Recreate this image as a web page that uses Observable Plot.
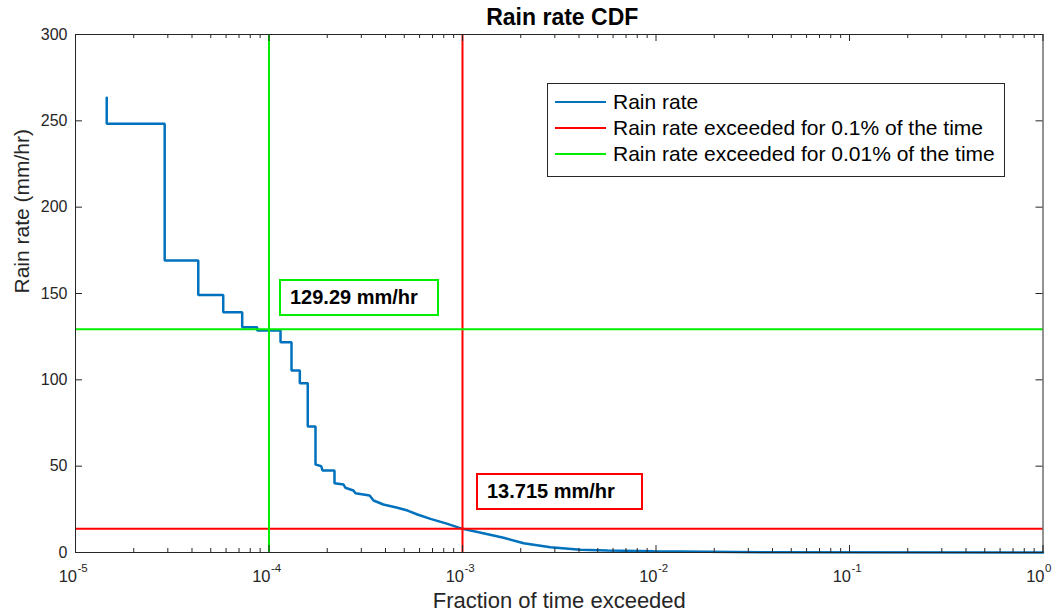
<!DOCTYPE html>
<html>
<head>
<meta charset="utf-8">
<script src="https://cdn.jsdelivr.net/npm/d3@7"></script>
<script src="https://cdn.jsdelivr.net/npm/@observablehq/plot@0.6"></script>
<style>
  body { margin: 0; background: #fff; }
  #wrap { position: relative; width: 1058px; height: 615px; font-family: "Liberation Sans", Arial, Helvetica, sans-serif; }
  #wrap svg { display: block; }
  .legend { position: absolute; left: 547px; top: 83px; width: 458px; height: 94px; border: 1px solid #262626; background: #fff; box-sizing: border-box; }
  .legend .row { position: absolute; left: 7px; height: 24px; display: flex; align-items: center; }
  .legend .sw { width: 51px; height: 0; border-top: 2px solid; margin-right: 7px; }
  .legend .lab { font-size: 21px; color: #000; white-space: nowrap; }
  .note { position: absolute; border: 2px solid; box-sizing: border-box; background: #fff; font-weight: bold; font-size: 20px; color: #000; display: flex; align-items: center; padding-left: 9px; white-space: nowrap; }
</style>
</head>
<body>
<div id="wrap"></div>
<script>
// ---- data ----
const frac = [1.45e-5, 1.45e-5, 2.89e-5, 2.89e-5, 4.31e-5, 4.31e-5, 5.80e-5, 5.80e-5, 7.27e-5, 7.27e-5, 8.69e-5, 8.69e-5,
  1.147e-4, 1.147e-4, 1.307e-4, 1.307e-4, 1.443e-4, 1.443e-4, 1.586e-4, 1.586e-4, 1.739e-4, 1.739e-4, 1.861e-4, 1.89e-4,
  2.18e-4, 2.18e-4, 2.43e-4, 2.48e-4, 2.73e-4, 2.80e-4, 3.31e-4, 3.47e-4, 3.90e-4, 4.61e-4, 5.20e-4, 5.85e-4, 6.83e-4,
  8.37e-4, 1.0e-3, 1.28e-3, 1.63e-3, 2.07e-3, 2.85e-3, 4.07e-3, 5.61e-3, 9.7e-3, 0.0347, 1];
const rate = [263.3, 248.3, 248.3, 169.1, 169.1, 149.2, 149.2, 139.2, 139.2, 130.5, 130.5, 128.6,
  128.6, 121.8, 121.8, 105.4, 105.4, 98.0, 98.0, 73.0, 73.0, 51.0, 50.0, 47.5,
  47.5, 40.1, 39.4, 37.5, 35.9, 34.3, 33.0, 30.1, 27.8, 25.9, 24.3, 22.0, 19.5,
  16.6, 13.715, 11.2, 8.5, 5.4, 3.1, 1.6, 1.2, 0.75, 0.2, 0.05];

const thrLabel = ["Rain rate exceeded for 0.1% of the time", "Rain rate exceeded for 0.01% of the time"];
const thrFrac = [1e-3, 1e-4];
const thrRate = [13.715, 129.29];
const thrColor = ["#ff0000", "#00ee00"];
const seriesLabel = "Rain rate";
const seriesColor = "#0072bd";

const xMajor = [1e-5, 1e-4, 1e-3, 1e-2, 1e-1, 1];
const xExp = ["-5", "-4", "-3", "-2", "-1", "0"];
const yTicks = [0, 50, 100, 150, 200, 250, 300];
const titleText = "Rain rate CDF";
const xLabel = "Fraction of time exceeded";
const yLabel = "Rain rate (mm/hr)";

// minor log ticks 2..9 per decade
const xMinor = [];
for (let e = -5; e < 0; e++) for (let k = 2; k <= 9; k++) xMinor.push(k * Math.pow(10, e));

const rows = frac.map((f, i) => ({f, r: rate[i]}));
const axisColor = "#262626";

const W = 1058, H = 615, ML = 75, MR = 15.5, MT = 34, MB = 63;
const FW = W - ML - MR, FH = H - MT - MB;
const majorLen = 7, minorLen = 4;

const chart = Plot.plot({
  width: W,
  height: H,
  marginLeft: ML,
  marginRight: MR,
  marginTop: MT,
  marginBottom: MB,
  x: {type: "log", domain: [1e-5, 1]},
  y: {domain: [0, 300]},
  axis: null,
  style: {fontFamily: '"Liberation Sans", Arial, Helvetica, sans-serif', background: "#fff", overflow: "visible"},
  marks: [
    // curve
    Plot.line(rows, {x: "f", y: "r", stroke: seriesColor, strokeWidth: 2.5, strokeLinejoin: "miter"}),
    // threshold lines (red then green)
    Plot.ruleY([thrRate[0]], {stroke: thrColor[0], strokeWidth: 2}),
    Plot.ruleX([thrFrac[0]], {stroke: thrColor[0], strokeWidth: 2}),
    Plot.ruleY([thrRate[1]], {stroke: thrColor[1], strokeWidth: 2}),
    Plot.ruleX([thrFrac[1]], {stroke: thrColor[1], strokeWidth: 2}),
    // inward ticks on all four sides
    Plot.tickY(yTicks, {y: d => d, insetRight: FW - majorLen, stroke: axisColor}),
    Plot.tickY(yTicks, {y: d => d, insetLeft: FW - majorLen, stroke: axisColor}),
    Plot.tickX(xMajor, {x: d => d, insetTop: FH - majorLen, stroke: axisColor}),
    Plot.tickX(xMajor, {x: d => d, insetBottom: FH - majorLen, stroke: axisColor}),
    Plot.tickX(xMinor, {x: d => d, insetTop: FH - minorLen, stroke: axisColor}),
    Plot.tickX(xMinor, {x: d => d, insetBottom: FH - minorLen, stroke: axisColor}),
    // y tick labels
    Plot.text(yTicks, {y: d => d, text: d => String(d), frameAnchor: "left", dx: -8, textAnchor: "end", lineAnchor: "middle", fontSize: 16, fill: axisColor}),
    // x tick labels as 10^n
    Plot.text(xMajor, {x: d => d, text: () => "10", frameAnchor: "bottom", dy: 24.5, dx: 1.5, textAnchor: "end", lineAnchor: "middle", fontSize: 16.5, fill: axisColor}),
    Plot.text(xMajor, {x: d => d, text: (d, i) => xExp[i], frameAnchor: "bottom", dy: 16, dx: 2, textAnchor: "start", lineAnchor: "middle", fontSize: 11.5, fill: axisColor}),
    // axis labels and title
    Plot.text([xLabel], {text: d => d, frameAnchor: "bottom", dy: 48, lineAnchor: "middle", fontSize: 22, fill: axisColor}),
    Plot.text([yLabel], {text: d => d, frameAnchor: "left", dx: -53, rotate: -90, lineAnchor: "middle", fontSize: 21, fill: axisColor}),
    Plot.text([titleText], {text: d => d, frameAnchor: "top", dy: -17, dx: 3, lineAnchor: "middle", fontSize: 23, fontWeight: "bold", fill: "#000"}),
    Plot.frame({stroke: axisColor, strokeWidth: 1})
  ]
});

const wrap = document.getElementById("wrap");
wrap.appendChild(chart);

// legend
const legend = document.createElement("div");
legend.className = "legend";
const items = [[seriesLabel, seriesColor], [thrLabel[0], thrColor[0]], [thrLabel[1], thrColor[1]]];
items.forEach(([lab, col], i) => {
  const row = document.createElement("div");
  row.className = "row";
  row.style.top = (5.5 + i * 26.3) + "px";
  const sw = document.createElement("div");
  sw.className = "sw";
  sw.style.borderTopColor = col;
  const t = document.createElement("span");
  t.className = "lab";
  t.textContent = lab;
  row.appendChild(sw); row.appendChild(t);
  legend.appendChild(row);
});
wrap.appendChild(legend);

// value annotations
const notes = [
  {text: thrRate[1] + " mm/hr", color: thrColor[1], left: 279, top: 279, w: 160, h: 37},
  {text: thrRate[0] + " mm/hr", color: thrColor[0], left: 476, top: 473, w: 167, h: 37}
];
notes.forEach(n => {
  const d = document.createElement("div");
  d.className = "note";
  d.textContent = n.text;
  Object.assign(d.style, {left: n.left + "px", top: n.top + "px", width: n.w + "px", height: n.h + "px", borderColor: n.color});
  wrap.appendChild(d);
});
</script>
</body>
</html>
